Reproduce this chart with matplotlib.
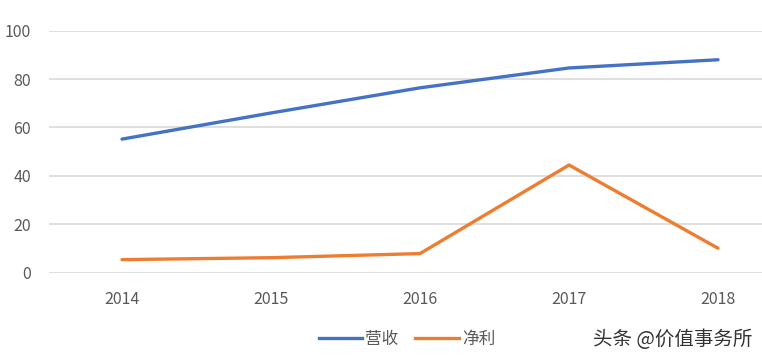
import matplotlib.pyplot as plt
from matplotlib.lines import Line2D

plt.rcParams['font.family'] = ['Noto Sans CJK SC', 'DejaVu Sans']

# Data
years = ['2014', '2015', '2016', '2017', '2018']
revenue = [55.2, 66.0, 76.4, 84.6, 88.0]      # 营收
net_profit = [5.4, 6.2, 7.9, 44.5, 10.1]      # 净利

BLUE = '#4472C4'
ORANGE = '#ED7D31'
GRID = '#D9D9D9'
TEXT = '#595959'

fig = plt.figure(figsize=(7.62, 3.62), dpi=100)
ax = fig.add_axes([0.0643, 0.2467, 0.9357, 0.6685])

x = list(range(len(years)))
ax.plot(x, revenue, color=BLUE, lw=2.4, solid_capstyle='round', label='营收')
ax.plot(x, net_profit, color=ORANGE, lw=2.4, solid_capstyle='round', label='净利')

ax.set_xlim(-0.49, 4.295)
ax.set_ylim(0, 100)
ax.set_yticks([0, 20, 40, 60, 80, 100])
ax.set_xticks(x)
ax.set_xticklabels(years)
ax.yaxis.grid(True, color=GRID, lw=1.2)
ax.set_axisbelow(True)
for s in ax.spines.values():
    s.set_visible(False)
ax.tick_params(axis='both', length=0, colors=TEXT, labelsize=11.5)
ax.tick_params(axis='x', pad=13)
ax.tick_params(axis='y', pad=13)

handles = [Line2D([0], [0], color=BLUE, lw=2.4),
           Line2D([0], [0], color=ORANGE, lw=2.4)]
fig.legend(handles, ['营收', '净利'], loc='center', bbox_to_anchor=(0.534, 0.062),
           ncol=2, frameon=False, fontsize=12, labelcolor=TEXT,
           handlelength=2.6, handletextpad=0.2, columnspacing=1.0)

fig.text(0.778, 0.062, '头条 @价值事务所', fontsize=14, color='#333333',
         ha='left', va='center')

fig.savefig('out.png', dpi=100)
